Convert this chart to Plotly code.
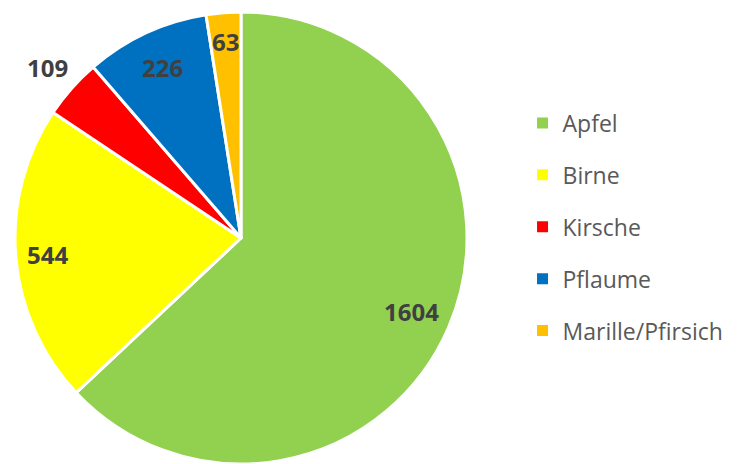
import math
import plotly.graph_objects as go

labels = ["Apfel", "Birne", "Kirsche", "Pflaume", "Marille/Pfirsich"]
values = [1604, 544, 109, 226, 63]
colors = ["#92D050", "#FFFF00", "#FF0000", "#0070C0", "#FFC000"]
# radial placement of value labels (fraction of radius), Excel "best fit" style
label_r = [0.82, 0.86, 1.14, 0.83, 0.87]

W, H = 737, 464
cx, cy, r = 241, 238, 226

fig = go.Figure()
fig.add_trace(go.Pie(
    labels=labels, values=values, sort=False, direction="clockwise", rotation=0,
    marker=dict(colors=colors, line=dict(color="white", width=3)),
    textinfo="none",
    domain=dict(x=[(cx - r) / W, (cx + r) / W], y=[max(0, (H - cy - r) / H), (H - cy + r) / H]),
    showlegend=False, hoverinfo="label+value",
))
for lab, col in zip(labels, colors):
    fig.add_trace(go.Scatter(x=[None], y=[None], mode="markers", name=lab, legendgroup=lab,
                             marker=dict(symbol="square", size=11, color=col)))

total = sum(values)
cum = 0
for v, fr in zip(values, label_r):
    mid = (cum + v / 2) / total * 2 * math.pi
    cum += v
    px = cx + fr * r * math.sin(mid)
    py = cy - fr * r * math.cos(mid)
    fig.add_annotation(text="<b>%d</b>" % v, x=px / W, y=1 - py / H, xref="paper", yref="paper",
                       xanchor="center", yanchor="middle", showarrow=False,
                       font=dict(family="Open Sans", size=24, color="#404040"))

fig.update_layout(
    width=W, height=H, margin=dict(l=0, r=0, t=0, b=0),
    paper_bgcolor="white", plot_bgcolor="white",
    xaxis=dict(visible=False), yaxis=dict(visible=False),
    legend=dict(x=0.709, y=1 - 227 / H, xanchor="left", yanchor="middle", tracegroupgap=19,
                font=dict(family="Open Sans", size=23, color="#595959")),
)
fig.write_html("out.html")
